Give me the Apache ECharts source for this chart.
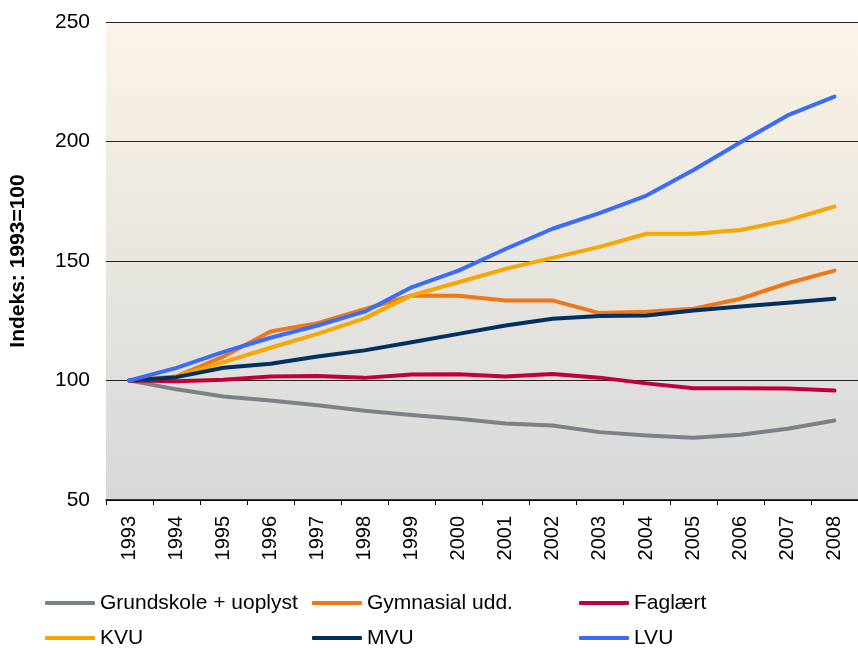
<!DOCTYPE html>
<html lang="da">
<head>
<meta charset="UTF-8">
<title>Indeks 1993=100</title>
<script src="https://cdn.jsdelivr.net/npm/echarts@6/dist/echarts.min.js"></script>
<style>
  body { margin: 0; background: #fff; }
  #chart { width: 858px; height: 648px; }
</style>
</head>
<body>
<div id="chart"></div>
<script>
// år på x-aksen
var years = ['1993','1994','1995','1996','1997','1998','1999','2000','2001','2002','2003','2004','2005','2006','2007','2008'];

// indeks pr. uddannelsesgruppe (1993=100)
var grundskole = [100, 96.3, 93.3, 91.6, 89.6, 87.3, 85.6, 84.0, 82.0, 81.2, 78.4, 77.0, 76.0, 77.3, 79.8, 83.3];
var gymnasial  = [100, 101.7, 110, 120.5, 124, 129.8, 135.5, 135.5, 133.5, 133.5, 128.2, 128.8, 130, 134.2, 140.7, 146];
var faglaert   = [100, 99.7, 100.3, 101.7, 101.9, 101.1, 102.5, 102.6, 101.7, 102.7, 101.2, 98.8, 96.8, 96.8, 96.7, 95.8];
var kvu        = [100, 101.7, 107.7, 113.7, 119.5, 126, 135.6, 141.1, 146.7, 151.3, 155.9, 161.4, 161.4, 163, 167, 172.8];
var mvu        = [100, 101.4, 105.3, 107, 110, 112.6, 116, 119.5, 123, 125.8, 127, 127.2, 129.3, 131, 132.5, 134.2];
var lvu        = [100, 105.3, 112, 117.9, 123, 128.8, 139, 146, 155, 163.5, 170, 177.4, 188.1, 199.7, 210.9, 218.8];

var yTicks = [50, 100, 150, 200, 250];

var chart = echarts.init(document.getElementById('chart'));
var font = 'Liberation Sans, Arial, sans-serif';

function serie(name, data, color) {
    return {
        name: name,
        type: 'line',
        data: data,
        symbol: 'none',
        color: color,
        lineStyle: { width: 4, color: color, cap: 'round', join: 'round' }
    };
}

function legend(left, names) {
    return {
        orient: 'vertical',
        left: left,
        top: 592,
        height: 80,
        padding: 0,
        itemGap: 13,
        itemWidth: 50,
        itemHeight: 4,
        icon: 'roundRect',
        data: names,
        textStyle: { fontSize: 21, color: '#000', fontFamily: font, lineHeight: 22 }
    };
}

var option = {
    animation: false,
    textStyle: { fontFamily: font },
    grid: {
        left: 102, top: 22, width: 768, height: 478,
        show: true, borderWidth: 0,
        backgroundColor: {
            type: 'linear', x: 0, y: 0, x2: 0, y2: 1,
            colorStops: [{ offset: 0, color: '#fcf4e6' }, { offset: 1, color: '#d6d8d9' }]
        }
    },
    legend: [
        legend(45, ['Grundskole + uoplyst', 'KVU']),
        legend(312, ['Gymnasial udd.', 'MVU']),
        legend(579, ['Faglært', 'LVU'])
    ],
    xAxis: {
        type: 'category',
        data: years,
        boundaryGap: true,
        axisLine: { lineStyle: { color: '#000', width: 1.5 } },
        axisTick: { show: true, length: 5, lineStyle: { color: '#000' } },
        axisLabel: { rotate: 90, fontSize: 20, color: '#000', margin: 16, fontFamily: font }
    },
    yAxis: {
        type: 'value',
        min: yTicks[0],
        max: yTicks[yTicks.length - 1],
        interval: 50,
        name: 'Indeks: 1993=100',
        nameLocation: 'middle',
        nameRotate: 90,
        nameGap: 77,
        nameTextStyle: { fontSize: 21, fontWeight: 'bold', color: '#000', fontFamily: font },
        axisLine: { show: false },
        axisTick: { show: false },
        axisLabel: { fontSize: 21, color: '#000', margin: 16, fontFamily: font },
        splitLine: { lineStyle: { color: '#222', width: 1 } }
    },
    series: [
        serie('Grundskole + uoplyst', grundskole, '#7a8287'),
        serie('Gymnasial udd.', gymnasial, '#f07718'),
        serie('Faglært', faglaert, '#c0003b'),
        serie('KVU', kvu, '#f8a600'),
        serie('MVU', mvu, '#00305f'),
        serie('LVU', lvu, '#3a6cfa')
    ]
};

chart.setOption(option);
</script>
</body>
</html>
